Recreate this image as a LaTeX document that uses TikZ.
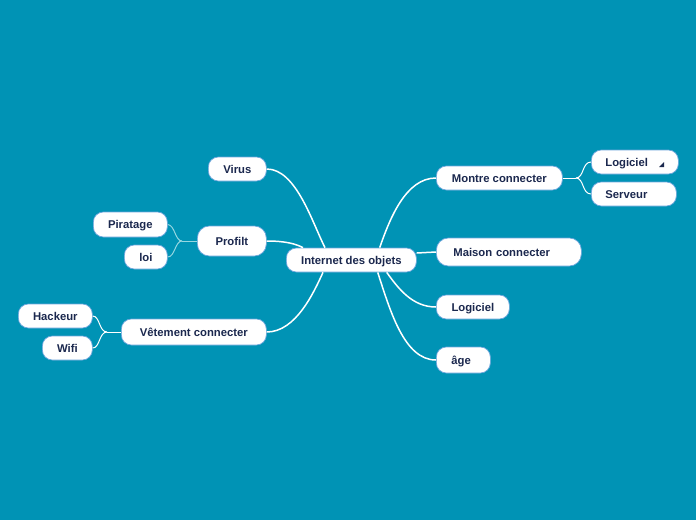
\documentclass[tikz,border=0pt]{standalone}
\usepackage{fontspec}
\setmainfont{Liberation Sans}
\definecolor{bg}{RGB}{0,147,181}
\definecolor{navy}{RGB}{27,40,78}
\definecolor{edgeblue}{RGB}{110,165,220}
\definecolor{lightcyan}{RGB}{150,215,225}
\tikzset{
  box/.style={draw=edgeblue, line width=0.7pt, fill=white, rounded corners=10pt,
    minimum height=24pt, inner xsep=0pt, inner ysep=0pt, anchor=west,
    text height=8.2pt, text depth=0pt,
    font=\fontsize{11.3}{13}\selectfont\bfseries, text=navy},
  lbox/.style={box, align=left},
  mainlink/.style={draw=white, line width=1.5pt},
  sublink/.style={draw=white, line width=1pt},
  sublinkc/.style={draw=lightcyan, line width=1pt},
}
\begin{document}
\begin{tikzpicture}[x=1pt,y=-1pt]
\fill[bg] (0,0) rectangle (696,520);
\useasboundingbox (0,0) rectangle (696,520);

% nodes
\node[box, minimum width=130pt] (c) at (286,260) {Internet des objets};
\node[box, minimum width=58pt] (virus) at (208,169) {Virus};
\node[box, minimum width=69pt, minimum height=30pt, rounded corners=12pt] (profilt) at (197,241) {Profilt};
\node[box, minimum width=74pt, minimum height=25pt] (piratage) at (93,224.5) {Piratage};
\node[box, minimum width=43pt] (loi) at (124,257) {loi};
\node[box, minimum width=145pt, minimum height=26pt] (vet) at (121,332) {Vêtement connecter};
\node[box, minimum width=74pt] (hackeur) at (18,316) {Hackeur};
\node[box, minimum width=50pt] (wifi) at (42,348) {Wifi};
\node[box, minimum width=126pt] (montre) at (436,178) {Montre connecter};
\node[lbox, inner xsep=14pt, text width=59pt] (loga) at (591,162) {Logiciel};
\node[lbox, inner xsep=14pt, text width=57pt] (serveur) at (591,194) {Serveur};
\node[lbox, inner xsep=17pt, text width=111pt, minimum height=28pt, rounded corners=12pt] (maison) at (436,252) {Maison connecter};
\node[box, minimum width=73pt] (logb) at (436,307) {Logiciel};
\node[lbox, inner xsep=15pt, text width=24pt, minimum height=26pt] (age) at (436,360) {âge};

% small triangle marker
\fill[navy] (659,167) -- (664,167) -- (664,162) -- cycle;

% main connectors
\draw[mainlink] (virus.east) .. controls (296,169) and (312,222) .. ([xshift=39pt]c.north west);
\draw[mainlink] (profilt.east) .. controls (286,241) and (296,244) .. ([xshift=17pt]c.north west);
\draw[mainlink] (vet.east) .. controls (296,332) and (314,292) .. ([xshift=37pt]c.south west);
\draw[mainlink] (montre.west) .. controls (406,178) and (390,218) .. ([xshift=-37pt]c.north east);
\draw[mainlink] (maison.west) -- ([yshift=7pt]c.east);
\draw[mainlink] (logb.west) .. controls (412,307) and (398,288) .. ([xshift=-30pt]c.south east);
\draw[mainlink] (age.west) .. controls (404,360) and (390,310) .. ([xshift=-39pt]c.south east);

% sub connectors
\coordinate (jp) at (182,241);
\draw[sublinkc] (profilt.west) -- (jp);
\draw[sublinkc] (jp) .. controls (175,241) and (175,225) .. (piratage.east);
\draw[sublinkc] (jp) .. controls (175,241) and (175,257) .. (loi.east);

\coordinate (jm) at (576,178);
\draw[sublink] (montre.east) -- (jm);
\draw[sublink] (jm) .. controls (584,178) and (582,162) .. (loga.west);
\draw[sublink] (jm) .. controls (584,178) and (582,194) .. (serveur.west);

\coordinate (jv) at (107,332);
\draw[sublink] (vet.west) -- (jv);
\draw[sublink] (jv) .. controls (99,332) and (100,316) .. (hackeur.east);
\draw[sublink] (jv) .. controls (99,332) and (100,348) .. (wifi.east);
\end{tikzpicture}
\end{document}
